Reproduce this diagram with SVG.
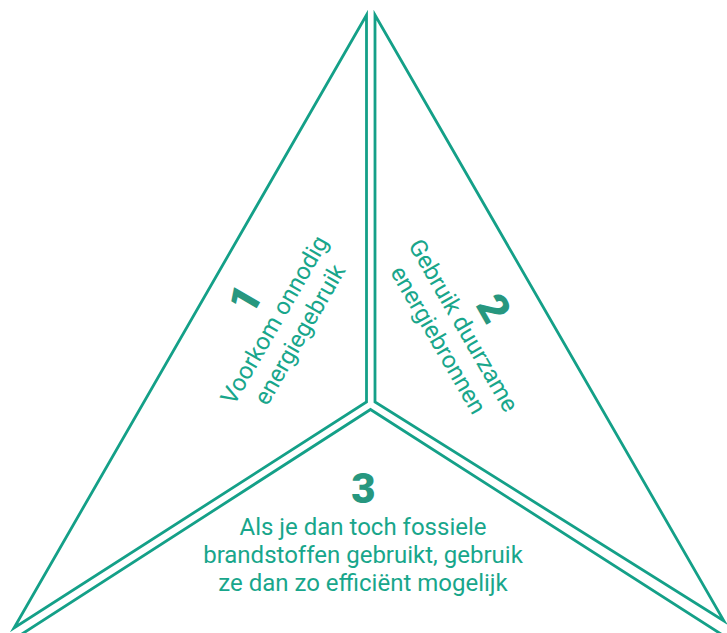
<svg xmlns="http://www.w3.org/2000/svg" width="727" height="633" viewBox="0 0 727 633">
<style>
.panel{fill:none;stroke:#14a088;stroke-width:2.8;stroke-linejoin:miter;stroke-miterlimit:12}
.lbl{font-family:Roboto,"Liberation Sans",sans-serif;font-size:24px;fill:#18a68b;text-anchor:middle}
.num{font-family:Roboto,"Liberation Sans",sans-serif;font-size:42px;font-weight:900;fill:#27977f;text-anchor:middle}
</style>
<rect width="727" height="633" fill="#ffffff"/>
<g id="connectors"></g>
<g id="panel1">
<polygon class="panel" points="366.5,15 366.5,402 14,628"/>
<text class="num" transform="translate(244.5,299) rotate(-60)" y="15">1</text>
<g transform="translate(288.5,328) rotate(-60)">
<text class="lbl" y="-8">Voorkom onnodig</text>
<text class="lbl" y="21">energiegebruik</text>
</g>
</g>
<g id="panel2">
<polygon class="panel" points="375,15 375,402 724,621"/>
<text class="num" transform="translate(494,308) rotate(60)" y="15">2</text>
<g transform="translate(449.5,333.5) rotate(60)">
<text class="lbl" y="-8">Gebruik duurzame</text>
<text class="lbl" y="21">energiebronnen</text>
</g>
</g>
<g id="panel3">
<polygon class="panel" points="370.5,409.5 760,659 -20,661"/>
<text class="num" x="363.5" y="503">3</text>
<text class="lbl" x="363" y="535">Als je dan toch fossiele</text>
<text class="lbl" x="363" y="563">brandstoffen gebruikt, gebruik</text>
<text class="lbl" x="363" y="591">ze dan zo efficiënt mogelijk</text>
</g>
</svg>
